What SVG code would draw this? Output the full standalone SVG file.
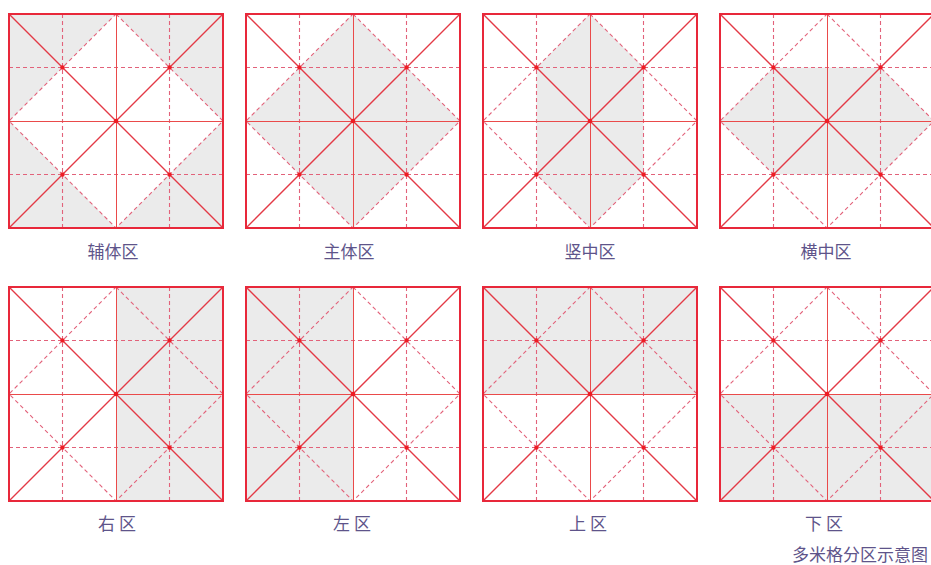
<svg xmlns="http://www.w3.org/2000/svg" xmlns:xlink="http://www.w3.org/1999/xlink" width="931" height="565" viewBox="0 0 931 565">
<style>
.shade{fill:#ebebeb;stroke:none}
.dash{stroke:#e2627a;stroke-width:1.1;stroke-dasharray:4 3;fill:none}
.mid{stroke:#ea4a4a;stroke-width:1;fill:none}
.diag{stroke:#e33a46;stroke-width:1.4;fill:none}
.border{stroke:#e8283a;stroke-width:2;fill:none}
.dot{fill:#ee1c24}
.lbl{font-family:"Noto Sans CJK SC","Noto Sans",sans-serif;font-size:17px;fill:#5e548a;text-anchor:middle}
.cap{font-family:"Noto Sans CJK SC","Noto Sans",sans-serif;font-size:17px;fill:#5e548a}
</style>
<defs>
<g id="grid">
<path class="dash" d="M53.5 0V214M160.5 0V214M0 53.5H214M0 160.5H214"/>
<path class="dash" d="M107 0L214 107L107 214L0 107Z" stroke-width="1.2"/>
<path class="mid" d="M107.5 0V214M0 107.5H214"/>
<path class="diag" d="M0 0L214 214M214 0L0 214"/>
<rect class="border" x="0" y="0" width="214" height="214"/>
<circle class="dot" cx="107" cy="107" r="2.3"/>
<circle class="dot" cx="53.5" cy="53.5" r="2.2"/>
<circle class="dot" cx="160.5" cy="53.5" r="2.2"/>
<circle class="dot" cx="53.5" cy="160.5" r="2.2"/>
<circle class="dot" cx="160.5" cy="160.5" r="2.2"/>
</g>
</defs>
<rect width="931" height="565" fill="#ffffff"/>
<g id="p1" transform="translate(9,14)">
<path class="shade" d="M0 0H107L0 107ZM107 0H214V107ZM214 107V214H107ZM0 107L107 214H0Z"/>
<use xlink:href="#grid"/>
</g>
<g id="p2" transform="translate(246,14)">
<path class="shade" d="M107 0L214 107L107 214L0 107Z"/>
<use xlink:href="#grid"/>
</g>
<g id="p3" transform="translate(483,14)">
<path class="shade" d="M107 0L160.5 53.5V160.5L107 214L53.5 160.5V53.5Z"/>
<use xlink:href="#grid"/>
</g>
<g id="p4" transform="translate(720,14)">
<path class="shade" d="M0 107L53.5 53.5H160.5L214 107L160.5 160.5H53.5Z"/>
<use xlink:href="#grid"/>
</g>
<g id="p5" transform="translate(9,287)">
<rect class="shade" x="107" y="0" width="107" height="214"/>
<use xlink:href="#grid"/>
</g>
<g id="p6" transform="translate(246,287)">
<rect class="shade" x="0" y="0" width="107" height="214"/>
<use xlink:href="#grid"/>
</g>
<g id="p7" transform="translate(483,287)">
<rect class="shade" x="0" y="0" width="214" height="107"/>
<use xlink:href="#grid"/>
</g>
<g id="p8" transform="translate(720,287)">
<rect class="shade" x="0" y="107" width="214" height="107"/>
<use xlink:href="#grid"/>
</g>
<g id="labels">
<text class="lbl" x="113" y="258">辅体区</text>
<text class="lbl" x="349" y="258">主体区</text>
<text class="lbl" x="590" y="258">竖中区</text>
<text class="lbl" x="826" y="258">横中区</text>
<text class="lbl" x="117" y="530">右 区</text>
<text class="lbl" x="352" y="530">左 区</text>
<text class="lbl" x="588" y="530">上 区</text>
<text class="lbl" x="824" y="530">下 区</text>
<text class="cap" x="792" y="561">多米格分区示意图</text>
</g>
</svg>
